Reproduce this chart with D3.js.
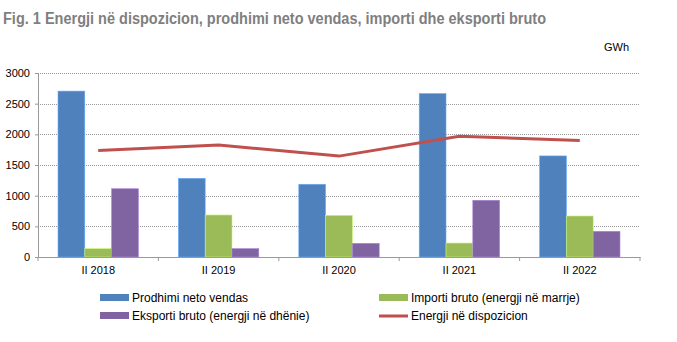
<!DOCTYPE html>
<html>
<head>
<meta charset="utf-8">
<script src="https://cdn.jsdelivr.net/npm/d3@7"></script>
<style>
  body { margin: 0; background: #fff; }
  text { font-family: "Liberation Sans", Arial, sans-serif; }
</style>
</head>
<body>
<svg id="chart" width="677" height="342"></svg>
<script>
// data (GWh)
var categories = ["II 2018", "II 2019", "II 2020", "II 2021", "II 2022"];
var prodhimi = [2705, 1283, 1186, 2665, 1648];
var importi = [137, 685, 680, 228, 669];
var eksporti = [1113, 137, 223, 925, 419];
var energji = [1735, 1825, 1645, 1968, 1900];
var yTicks = [0, 500, 1000, 1500, 2000, 2500, 3000];

var seriesNames = ["Prodhimi neto vendas", "Importi bruto (energji në marrje)", "Eksporti bruto (energji në dhënie)", "Energji në dispozicion"];
var colors = ["#4F81BD", "#9BBB59", "#8064A2", "#C0504D"];

var svg = d3.select("#chart");

var plotLeft = 38, plotRight = 640, plotTop = 73, plotBottom = 257;

var x = d3.scaleBand().domain(categories).range([plotLeft, plotRight]);
var xInner = d3.scaleBand().domain([0, 1, 2]).range([20, x.bandwidth() - 20]);
var y = d3.scaleLinear().domain([0, 3000]).range([plotBottom, plotTop]);

// title
svg.append("text")
    .attr("x", 3)
    .attr("y", 24)
    .attr("textLength", 543)
    .attr("lengthAdjust", "spacingAndGlyphs")
    .style("font-family", "'Liberation Sans Narrow', 'Arial Narrow', 'Liberation Sans', sans-serif")
    .style("font-weight", "bold")
    .style("font-size", "16px")
    .style("fill", "#7f7f7f")
    .text("Fig. 1 Energji në dispozicion, prodhimi neto vendas, importi dhe eksporti bruto");

svg.append("text")
    .attr("x", 604)
    .attr("y", 51)
    .style("font-size", "11px")
    .style("fill", "#000")
    .text("GWh");

// grid
svg.append("g")
    .selectAll("line")
    .data(yTicks.filter(d => d > 0))
    .enter()
    .append("line")
    .attr("x1", plotLeft)
    .attr("x2", plotRight)
    .attr("y1", d => Math.round(y(d)) + 0.5)
    .attr("y2", d => Math.round(y(d)) + 0.5)
    .attr("stroke", "#999")
    .attr("stroke-width", 1)
    .attr("stroke-dasharray", "1,1");

// bars
var groups = [prodhimi, importi, eksporti];
groups.forEach(function(vals, s) {
    svg.append("g")
        .selectAll("rect")
        .data(vals)
        .enter()
        .append("rect")
        .attr("x", (d, i) => x(categories[i]) + xInner(s))
        .attr("y", d => y(d))
        .attr("width", xInner.bandwidth())
        .attr("height", d => plotBottom - y(d))
        .attr("fill", colors[s])
        .attr("stroke", d3.color(colors[s]).brighter(0.8))
        .attr("stroke-width", 0.6);
});

// line
var line = d3.line()
    .x((d, i) => x(categories[i]) + x.bandwidth() / 2)
    .y(d => y(d));

svg.append("path")
    .datum(energji)
    .attr("d", line)
    .attr("fill", "none")
    .attr("stroke", colors[3])
    .attr("stroke-width", 3);

// axes
var yAxis = svg.append("g")
    .attr("transform", "translate(" + plotLeft + ",0)")
    .call(d3.axisLeft(y).tickValues(yTicks).tickFormat(d3.format("d")).tickSize(3).tickPadding(5));
yAxis.selectAll("text").style("font-size", "11px").style("fill", "#000");

var xAxis = svg.append("g")
    .attr("transform", "translate(0," + plotBottom + ")")
    .call(d3.axisBottom(x).tickSize(0).tickPadding(9));
xAxis.selectAll("text").style("font-size", "11px").style("fill", "#000");

// category boundary ticks
svg.append("g")
    .selectAll("line")
    .data(categories.concat(["end"]))
    .enter()
    .append("line")
    .attr("x1", (d, i) => plotLeft + i * x.step())
    .attr("x2", (d, i) => plotLeft + i * x.step())
    .attr("y1", plotBottom)
    .attr("y2", plotBottom + 4)
    .attr("stroke", "#999");

svg.selectAll(".domain").attr("stroke", "#999");
svg.selectAll(".tick line").attr("stroke", "#999");

// legend
var legendItems = [
    { name: seriesNames[0], color: colors[0], x: 100, y: 298, type: "bar" },
    { name: seriesNames[1], color: colors[1], x: 379, y: 298, type: "bar" },
    { name: seriesNames[2], color: colors[2], x: 100, y: 316, type: "bar" },
    { name: seriesNames[3], color: colors[3], x: 379, y: 316, type: "line" }
];

var legend = svg.append("g")
    .selectAll("g")
    .data(legendItems)
    .enter()
    .append("g")
    .attr("transform", d => "translate(" + d.x + "," + d.y + ")");

legend.append("rect")
    .attr("x", 0)
    .attr("y", d => d.type === "bar" ? -4 : -1.5)
    .attr("width", 29)
    .attr("height", d => d.type === "bar" ? 7 : 3)
    .attr("fill", d => d.color);

legend.append("text")
    .attr("x", 32)
    .attr("y", 4)
    .style("font-size", "12px")
    .style("fill", "#000")
    .text(d => d.name);
</script>
</body>
</html>
